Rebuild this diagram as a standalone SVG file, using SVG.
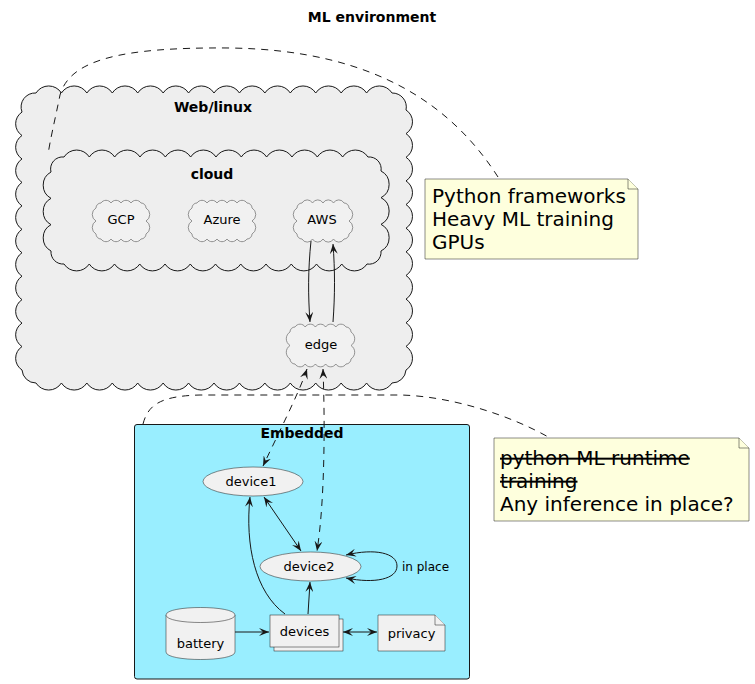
<svg xmlns="http://www.w3.org/2000/svg" width="755" height="684" viewBox="0 0 755 684">
<defs>
<style>
text{font-family:"DejaVu Sans","Liberation Sans",sans-serif;fill:#000}
.title{font-size:14px;font-weight:bold}
.grp{font-size:14px;font-weight:bold}
.lbl{font-size:13px}
.elbl{font-size:12px}
.note{font-size:20px}
.bigcloud{fill:#EEEEEE;stroke:#181818;stroke-width:1}
.smcloud{fill:#F1F1F1;stroke:#7a7a7a;stroke-width:0.8}
.shape{fill:#F1F1F1;stroke:#181818;stroke-width:0.5}
.notebox{fill:#FEFFDD;stroke:#181818;stroke-width:0.5}
.edge{fill:none;stroke:#181818;stroke-width:1}
.dash{stroke-dasharray:7,6}
.st{text-decoration:line-through}
</style>
<marker id="ah" viewBox="0 0 10 8" refX="10" refY="4" markerWidth="10" markerHeight="8" markerUnits="userSpaceOnUse" orient="auto-start-reverse">
<path d="M0,0 L10,4 L0,8 L4,4 Z" fill="#181818"/>
</marker>
</defs>
<rect width="755" height="684" fill="#FFFFFF"/>
<text class="title" x="372" y="22" text-anchor="middle">ML environment</text>

<g id="weblinux">
<path class="bigcloud" d="M22,112 A14,14 0 0 1 36,93
a15,15 0 0 1 25.43,0 a15,15 0 0 1 25.43,0 a15,15 0 0 1 25.43,0 a15,15 0 0 1 25.43,0 a15,15 0 0 1 25.43,0 a15,15 0 0 1 25.43,0 a15,15 0 0 1 25.43,0
a15,15 0 0 1 25.43,0 a15,15 0 0 1 25.43,0 a15,15 0 0 1 25.43,0 a15,15 0 0 1 25.43,0 a15,15 0 0 1 25.43,0 a15,15 0 0 1 25.43,0 a15,15 0 0 1 25.43,0
A14,14 0 0 1 406,110
a14,14 0 0 1 0,23.64 a14,14 0 0 1 0,23.64 a14,14 0 0 1 0,23.64 a14,14 0 0 1 0,23.64 a14,14 0 0 1 0,23.64 a14,14 0 0 1 0,23.64
a14,14 0 0 1 0,23.64 a14,14 0 0 1 0,23.64 a14,14 0 0 1 0,23.64 a14,14 0 0 1 0,23.64 a14,14 0 0 1 0,23.64
A14,14 0 0 1 392,383
a15,15 0 0 1 -25.43,0 a15,15 0 0 1 -25.43,0 a15,15 0 0 1 -25.43,0 a15,15 0 0 1 -25.43,0 a15,15 0 0 1 -25.43,0 a15,15 0 0 1 -25.43,0 a15,15 0 0 1 -25.43,0
a15,15 0 0 1 -25.43,0 a15,15 0 0 1 -25.43,0 a15,15 0 0 1 -25.43,0 a15,15 0 0 1 -25.43,0 a15,15 0 0 1 -25.43,0 a15,15 0 0 1 -25.43,0 a15,15 0 0 1 -25.43,0
A14,14 0 0 1 22,370
a14,14 0 0 1 0,-23.45 a14,14 0 0 1 0,-23.45 a14,14 0 0 1 0,-23.45 a14,14 0 0 1 0,-23.45 a14,14 0 0 1 0,-23.45 a14,14 0 0 1 0,-23.45
a14,14 0 0 1 0,-23.45 a14,14 0 0 1 0,-23.45 a14,14 0 0 1 0,-23.45 a14,14 0 0 1 0,-23.45 a14,14 0 0 1 0,-23.45 Z"/>
<text class="grp" x="213" y="112" text-anchor="middle">Web/linux</text>
</g>

<g id="cloud">
<path class="bigcloud" d="M51,172 A12,12 0 0 1 64,157
a15,15 0 0 1 25.33,0 a15,15 0 0 1 25.33,0 a15,15 0 0 1 25.33,0 a15,15 0 0 1 25.33,0 a15,15 0 0 1 25.33,0 a15,15 0 0 1 25.33,0
a15,15 0 0 1 25.33,0 a15,15 0 0 1 25.33,0 a15,15 0 0 1 25.33,0 a15,15 0 0 1 25.33,0 a15,15 0 0 1 25.33,0 a15,15 0 0 1 25.33,0
A12,12 0 0 1 381,171
a15,15 0 0 1 0,26.67 a15,15 0 0 1 0,26.67 a15,15 0 0 1 0,26.67
A12,12 0 0 1 367,264
a15,15 0 0 1 -25.25,0 a15,15 0 0 1 -25.25,0 a15,15 0 0 1 -25.25,0 a15,15 0 0 1 -25.25,0 a15,15 0 0 1 -25.25,0 a15,15 0 0 1 -25.25,0
a15,15 0 0 1 -25.25,0 a15,15 0 0 1 -25.25,0 a15,15 0 0 1 -25.25,0 a15,15 0 0 1 -25.25,0 a15,15 0 0 1 -25.25,0 a15,15 0 0 1 -25.25,0
A12,12 0 0 1 51,251
a15,15 0 0 1 0,-26.33 a15,15 0 0 1 0,-26.33 a15,15 0 0 1 0,-26.33 Z"/>
<text class="grp" x="212" y="179" text-anchor="middle">cloud</text>
</g>

<g id="GCP">
<path class="smcloud" d="M96,208 A5,5 0 0 1 101,203 a6,6 0 0 1 10,0 a6,6 0 0 1 10,0 a6,6 0 0 1 10,0 a6,6 0 0 1 10,0 A5,5 0 0 1 146,208 a7.5,7.5 0 0 1 0,13 a7.5,7.5 0 0 1 0,13 A5,5 0 0 1 141,239 a6,6 0 0 1 -10,0 a6,6 0 0 1 -10,0 a6,6 0 0 1 -10,0 a6,6 0 0 1 -10,0 A5,5 0 0 1 96,234 a7.5,7.5 0 0 1 0,-13 a7.5,7.5 0 0 1 0,-13 Z"/>
<text class="lbl" x="121" y="224" text-anchor="middle">GCP</text>
</g>

<g id="Azure">
<path class="smcloud" d="M192,208 A5,5 0 0 1 197,203 a6,6 0 0 1 10,0 a6,6 0 0 1 10,0 a6,6 0 0 1 10,0 a6,6 0 0 1 10,0 a6,6 0 0 1 10,0 A5,5 0 0 1 252,208 a7.5,7.5 0 0 1 0,13 a7.5,7.5 0 0 1 0,13 A5,5 0 0 1 247,239 a6,6 0 0 1 -10,0 a6,6 0 0 1 -10,0 a6,6 0 0 1 -10,0 a6,6 0 0 1 -10,0 a6,6 0 0 1 -10,0 A5,5 0 0 1 192,234 a7.5,7.5 0 0 1 0,-13 a7.5,7.5 0 0 1 0,-13 Z"/>
<text class="lbl" x="222" y="224" text-anchor="middle">Azure</text>
</g>

<g id="AWS">
<path class="smcloud" d="M297,208 A5,5 0 0 1 302,203 a6,6 0 0 1 10.5,0 a6,6 0 0 1 10.5,0 a6,6 0 0 1 10.5,0 a6,6 0 0 1 10.5,0 A5,5 0 0 1 349,208 a7.5,7.5 0 0 1 0,13 a7.5,7.5 0 0 1 0,13 A5,5 0 0 1 344,239 a6,6 0 0 1 -10.5,0 a6,6 0 0 1 -10.5,0 a6,6 0 0 1 -10.5,0 a6,6 0 0 1 -10.5,0 A5,5 0 0 1 297,234 a7.5,7.5 0 0 1 0,-13 a7.5,7.5 0 0 1 0,-13 Z"/>
<text class="lbl" x="322" y="224" text-anchor="middle">AWS</text>
</g>

<g id="edge">
<path class="smcloud" d="M290,332 A5,5 0 0 1 295,327 a6,6 0 0 1 10.2,0 a6,6 0 0 1 10.2,0 a6,6 0 0 1 10.2,0 a6,6 0 0 1 10.2,0 a6,6 0 0 1 10.2,0 A5,5 0 0 1 351,332 a8,8 0 0 1 0,13.5 a8,8 0 0 1 0,13.5 A5,5 0 0 1 346,364 a6,6 0 0 1 -10.2,0 a6,6 0 0 1 -10.2,0 a6,6 0 0 1 -10.2,0 a6,6 0 0 1 -10.2,0 a6,6 0 0 1 -10.2,0 A5,5 0 0 1 290,359 a8,8 0 0 1 0,-13.5 a8,8 0 0 1 0,-13.5 Z"/>
<text class="lbl" x="321" y="349" text-anchor="middle">edge</text>
</g>

<g id="note1">
<path class="notebox" d="M425,179 L628,179 L638,189 L638,259 L425,259 Z"/>
<path class="notebox" d="M628,179 L628,189 L638,189" fill="none"/>
<text class="note" x="432" y="203">Python frameworks</text>
<text class="note" x="432" y="226">Heavy ML training</text>
<text class="note" x="432" y="249">GPUs</text>
</g>

<g id="Embedded">
<rect x="134.5" y="424.5" width="335" height="254.5" rx="2.5" fill="#99EEFF" stroke="#181818" stroke-width="1"/>
<text class="grp" x="302" y="438" text-anchor="middle">Embedded</text>
</g>

<g id="note2">
<path class="notebox" d="M494,438 L739,438 L749,448 L749,521 L494,521 Z"/>
<path class="notebox" d="M739,438 L739,448 L749,448" fill="none"/>
<text class="note st" x="500" y="465">python ML runtime</text>
<text class="note st" x="500" y="488">training</text>
<text class="note" x="500" y="511">Any inference in place?</text>
</g>

<g id="device1">
<ellipse class="shape" cx="253" cy="481.5" rx="50" ry="14.5"/>
<text class="lbl" x="251" y="486" text-anchor="middle">device1</text>
</g>

<g id="device2">
<ellipse class="shape" cx="310.5" cy="566.5" rx="50.5" ry="14.5"/>
<text class="lbl" x="309" y="571" text-anchor="middle">device2</text>
</g>

<g id="battery">
<path class="shape" d="M166,615 C166,605 235,605 235,615 L235,652 C235,662 166,662 166,652 Z"/>
<path class="shape" d="M166,615 C166,625 235,625 235,615" fill="none"/>
<text class="lbl" x="200.5" y="648" text-anchor="middle">battery</text>
</g>

<g id="devices">
<rect class="shape" x="274" y="619" width="69" height="32"/>
<rect class="shape" x="270" y="615" width="69" height="32"/>
<text class="lbl" x="304.5" y="636" text-anchor="middle">devices</text>
</g>

<g id="privacy">
<path class="shape" d="M378,615 L435,615 L445,625 L445,651 L378,651 Z"/>
<path class="shape" d="M435,615 L435,625 L445,625" fill="none"/>
<text class="lbl" x="411.5" y="638" text-anchor="middle">privacy</text>
</g>

<g id="connectors">
<path class="edge dash" d="M498,177 C455,110 380,50 230,48 C120,47 70,60 60,95 C55,120 50,140 48,155"/>
<path class="edge dash" d="M143,424 C148,405 160,396 200,395 L400,395 C450,396 510,415 550,438"/>
<path class="edge" d="M311,241 C308,270 308,295 310,322" marker-end="url(#ah)"/>
<path class="edge" d="M333,322 C335,295 335,270 333,244" marker-end="url(#ah)"/>
<path class="edge dash" d="M307,369 C300,390 285,420 263,466" marker-start="url(#ah)" marker-end="url(#ah)"/>
<path class="edge dash" d="M323,369 C325,420 325,500 317,551" marker-start="url(#ah)" marker-end="url(#ah)"/>
<path class="edge" d="M264,497 L301,551" marker-start="url(#ah)" marker-end="url(#ah)"/>
<path class="edge" d="M285,614 C255,592 245,545 250,497" marker-end="url(#ah)"/>
<path class="edge" d="M308,614 L310,582" marker-end="url(#ah)"/>
<path class="edge" d="M346,555 C375,548 397,553 397,566 C397,579 375,584 346,578" marker-start="url(#ah)" marker-end="url(#ah)"/>
<path class="edge" d="M235,632 L269,632" marker-end="url(#ah)"/>
<path class="edge" d="M343,632 L377,632" marker-start="url(#ah)" marker-end="url(#ah)"/>
<text class="elbl" x="402" y="571">in place</text>
</g>
</svg>
